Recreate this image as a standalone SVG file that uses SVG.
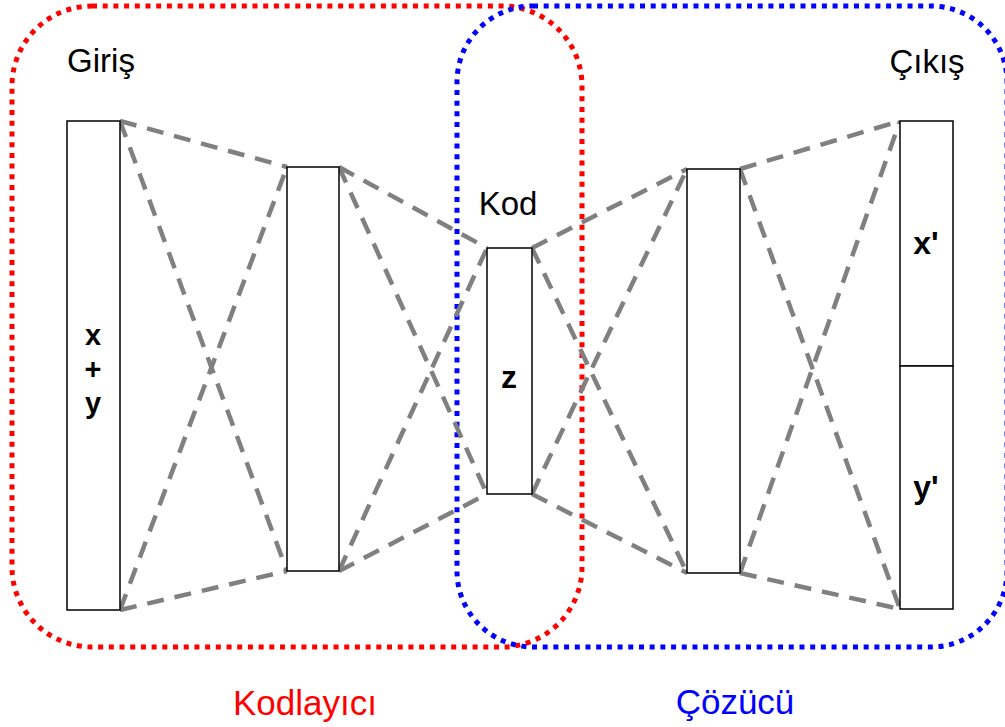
<svg xmlns="http://www.w3.org/2000/svg" width="1005" height="727" viewBox="0 0 1005 727">
  <style>
    .region { fill: none; stroke-width: 5; stroke-dasharray: 5 5.7; }
    .layer { fill: #ffffff; stroke: #000000; stroke-width: 1.5; }
    .link { stroke: #808080; stroke-width: 4.5; stroke-dasharray: 17 11; fill: none; }
    .lbl { font-family: "Liberation Sans", Arial, sans-serif; font-size: 33px; text-anchor: middle; }
    .var { font-family: "Liberation Sans", Arial, sans-serif; font-size: 32px; font-weight: bold; text-anchor: middle; fill: #000000; }
    .stack { font-size: 29px; }
    .big { font-size: 35px; }
  </style>
  <rect width="1005" height="727" fill="#ffffff"/>

  <!-- encoder / decoder regions -->
  <g id="encoder-region">
    <rect class="region" x="12" y="6" width="570" height="641" rx="80" ry="80" stroke="#ff0000"/>
    <text class="lbl big" x="305" y="715" fill="#ff0000">Kodlayıcı</text>
  </g>
  <g id="decoder-region">
    <rect class="region" x="457" y="6" width="550" height="641" rx="76" ry="76" stroke="#0000ff"/>
    <text class="lbl big" x="735" y="714" fill="#0000ff">Çözücü</text>
  </g>

  <!-- dashed connections between layers -->
  <g id="connectors">
    <line class="link" x1="120" y1="121" x2="287" y2="167"/>
    <line class="link" x1="120" y1="121" x2="287" y2="571"/>
    <line class="link" x1="120" y1="610" x2="287" y2="167"/>
    <line class="link" x1="120" y1="610" x2="287" y2="571"/>

    <line class="link" x1="339" y1="167" x2="487" y2="248"/>
    <line class="link" x1="339" y1="167" x2="487" y2="494"/>
    <line class="link" x1="339" y1="571" x2="487" y2="248"/>
    <line class="link" x1="339" y1="571" x2="487" y2="494"/>

    <line class="link" x1="532" y1="248" x2="687" y2="169"/>
    <line class="link" x1="532" y1="248" x2="687" y2="573"/>
    <line class="link" x1="532" y1="494" x2="687" y2="169"/>
    <line class="link" x1="532" y1="494" x2="687" y2="573"/>

    <line class="link" x1="740" y1="169" x2="900" y2="121"/>
    <line class="link" x1="740" y1="169" x2="900" y2="609"/>
    <line class="link" x1="740" y1="573" x2="900" y2="121"/>
    <line class="link" x1="740" y1="573" x2="900" y2="609"/>
  </g>

  <g id="input">
    <rect class="layer" x="67" y="121" width="53" height="489"/>
    <text class="var stack"><tspan x="93" y="345">x</tspan><tspan x="93" y="379">+</tspan><tspan x="93" y="413">y</tspan></text>
    <text class="lbl" x="101" y="72" fill="#000000">Giriş</text>
  </g>

  <g id="hidden-enc">
    <rect class="layer" x="287" y="167" width="52" height="404"/>
  </g>

  <g id="code">
    <rect class="layer" x="487" y="248" width="45" height="246"/>
    <text class="var" x="509" y="388">z</text>
    <text class="lbl" x="508" y="215" fill="#000000">Kod</text>
  </g>

  <g id="hidden-dec">
    <rect class="layer" x="687" y="169" width="53" height="404"/>
  </g>

  <g id="output">
    <rect class="layer" x="900" y="121" width="53" height="245"/>
    <rect class="layer" x="900" y="366" width="53" height="243"/>
    <text class="var" x="926" y="254">x'</text>
    <text class="var" x="926" y="498">y'</text>
    <text class="lbl" x="927" y="73" fill="#000000">Çıkış</text>
  </g>
</svg>
